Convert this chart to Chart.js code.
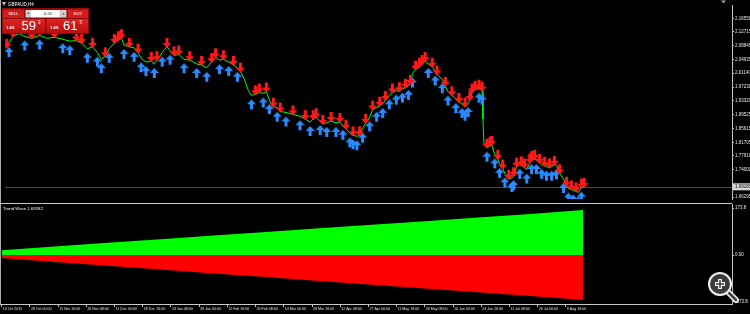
<!DOCTYPE html>
<html>
<head>
<meta charset="utf-8">
<script src="https://cdn.jsdelivr.net/npm/chart.js@4.4.0/dist/chart.umd.min.js"></script>
<style>
  html, body { margin: 0; padding: 0; background: #000; overflow: hidden; }
  #wrap { position: relative; width: 750px; height: 314px; }
  #priceChart { position: absolute; left: 0; top: 0; }
  #waveChart { position: absolute; left: 0; top: 204px; }
</style>
</head>
<body>
<div id="wrap">
  <canvas id="priceChart" width="750" height="204"></canvas>
  <canvas id="waveChart" width="750" height="110"></canvas>
</div>
<script>
// GBPAUD H4 closes, bar number counted from 13 Oct 2015
const closeBars = [
  0, 5, 14, 28, 41, 57, 75, 91, 109, 128,
  144, 159, 171, 184, 196, 207, 216, 225, 234, 246,
  255, 262, 268, 280, 291, 300, 307, 318, 330, 337,
  343, 355, 366, 373, 382, 393, 405, 418, 434, 445,
  457, 468, 477, 486, 495, 507, 518, 527, 534, 543,
  552, 559, 568, 577, 586, 593, 600, 609, 618, 625,
  638, 654, 670, 682, 693, 700, 707, 716, 722, 731,
  741, 752, 761, 768, 775, 784, 791, 800, 806, 813,
  820, 829, 836, 845, 852, 859, 865, 874, 881, 890,
  897, 904, 911, 918, 922, 927, 934, 943, 949, 956,
  963, 972, 979, 983, 995, 1002, 1008, 1017, 1026, 1033,
  1040, 1047, 1054, 1058, 1063, 1070, 1079, 1086, 1088, 1090,
  1097, 1104, 1108, 1115, 1122, 1126, 1133, 1138, 1147, 1154,
  1158, 1165, 1172, 1176, 1183, 1188, 1195, 1199, 1206, 1210,
  1217, 1222, 1229, 1233, 1240, 1245, 1251, 1256, 1263, 1272,
  1279, 1283, 1290, 1294, 1301, 1306, 1313, 1319
];
const closePrices = [
  2.0826, 2.0960, 2.1147, 2.1227, 2.1147, 2.1093, 2.1174, 2.1093, 2.1120, 2.1067,
  2.1013, 2.1030, 2.0960, 2.0799, 2.0853, 2.0692, 2.0505, 2.0586, 2.0799, 2.0960,
  2.1040, 2.1093, 2.0906, 2.0853, 2.0826, 2.0692, 2.0532, 2.0425, 2.0452, 2.0372,
  2.0479, 2.0692, 2.0853, 2.0746, 2.0612, 2.0639, 2.0505, 2.0479, 2.0372, 2.0345,
  2.0265, 2.0425, 2.0559, 2.0479, 2.0505, 2.0425, 2.0345, 2.0265, 2.0158, 1.9944,
  1.9623, 1.9490, 1.9516, 1.9570, 1.9543, 1.9597, 1.9356, 1.9169, 1.9142, 1.9035,
  1.9009, 1.8955, 1.8902, 1.8821, 1.8741, 1.8821, 1.8875, 1.8768, 1.8688, 1.8714,
  1.8768, 1.8714, 1.8741, 1.8634, 1.8554, 1.8420, 1.8367, 1.8340, 1.8367, 1.8554,
  1.8714, 1.8875, 1.9089, 1.9142, 1.9196, 1.9249, 1.9356, 1.9490, 1.9570, 1.9623,
  1.9605, 1.9677, 1.9703, 1.9757, 1.9810, 2.0104, 2.0211, 2.0292, 2.0372, 2.0452,
  2.0372, 2.0292, 2.0158, 2.0078, 1.9944, 1.9757, 1.9597, 1.9490, 1.9383, 1.9303,
  1.9249, 1.9169, 1.9276, 1.9356, 1.9570, 1.9650, 1.9677, 1.9623, 1.8821, 1.8153,
  1.8019, 1.8073, 1.8100, 1.7832, 1.7699, 1.7565, 1.7431, 1.7298, 1.7137, 1.7164,
  1.7218, 1.7485, 1.7538, 1.7520, 1.7458, 1.7405, 1.7592, 1.7672, 1.7699, 1.7672,
  1.7592, 1.7538, 1.7512, 1.7485, 1.7458, 1.7485, 1.7538, 1.7525, 1.7298, 1.7137,
  1.6950, 1.6870, 1.6843, 1.6817, 1.6790, 1.6763, 1.6897, 1.6918
];
// which closes carry a sell (red, above) or buy (blue, below) arrow
const sellSignalIdx = [0, 2, 3, 5, 6, 8, 11, 12, 14, 17, 19, 20, 21, 23, 25, 28, 30, 32, 34,
  35, 37, 39, 41, 42, 44, 46, 48, 52, 53, 55, 57, 59, 61, 63, 65, 66, 68, 70, 72, 74, 76,
  78, 80, 82, 84, 86, 88, 90, 92, 94, 96, 97, 98, 99, 101, 103, 105, 107, 109, 111, 113,
  114, 115, 116, 117, 120, 121, 122, 124, 126, 128, 130, 131, 133, 134, 136, 137, 138,
  140, 142, 144, 146, 148, 150, 152, 154, 156, 157];
const buySignalIdx = [1, 4, 6, 9, 10, 13, 15, 16, 18, 22, 24, 26, 27, 29, 31, 33, 36, 38, 40,
  43, 45, 47, 51, 54, 56, 58, 60, 62, 64, 67, 69, 71, 73, 75, 76, 77, 79, 81, 83, 85, 87,
  89, 91, 93, 95, 100, 102, 104, 106, 108, 110, 111, 112, 116, 117, 120, 123, 125, 127,
  129, 130, 132, 135, 137, 139, 141, 143, 145, 147, 149, 151, 153, 155, 156];

const priceTicks = [2.16550, 2.12715, 2.08845, 2.04935, 2.01140, 1.97230, 1.93320,
  1.89525, 1.85615, 1.81705, 1.77910, 1.74000, 1.66295];
const bidPrice = 1.69183;

const timeTickBars = [0, 64, 128, 192, 256, 320, 384, 448, 512, 576, 640,
  704, 768, 832, 896, 960, 1024, 1088, 1152, 1216, 1280];
const timeLabels = ["13 Oct 2015", "28 Oct 00:00", "11 Nov 16:00", "26 Nov 08:00",
  "11 Dec 00:00", "28 Dec 16:00", "13 Jan 08:00", "28 Jan 00:00", "11 Feb 16:00",
  "26 Feb 08:00", "14 Mar 00:00", "28 Mar 16:00", "12 Apr 08:00", "27 Apr 00:00",
  "11 May 16:00", "26 May 08:00", "10 Jun 00:00", "24 Jun 16:00", "11 Jul 08:00",
  "26 Jul 00:00", "9 Aug 16:00"];

// Trend Wave indicator
const waveBars = [0, 120, 240, 360, 480, 600, 720, 840, 960, 1080, 1200, 1319];
const waveBull = [18, 31, 45, 58, 72, 85, 99, 112, 125, 139, 152, 166];
const waveBear = [-11, -26, -40, -54, -68, -81, -96, -110, -124, -138, -152, -166];
const waveTicks = [173.8, 0, -173.8];

const FONT = '"Liberation Sans", Arial, sans-serif';
const X_MIN = -4, X_MAX = 1657;

function arrowImage(color, up) {
  const c = document.createElement('canvas');
  c.width = 9; c.height = 34;
  const g = c.getContext('2d');
  g.fillStyle = color;
  g.beginPath();
  if (up) {
    // tip 4px under the close
    g.moveTo(4.5, 21); g.lineTo(9, 26); g.lineTo(6, 26); g.lineTo(6, 31);
    g.lineTo(3, 31); g.lineTo(3, 26); g.lineTo(0, 26);
  } else {
    g.moveTo(4.5, 18); g.lineTo(9, 13); g.lineTo(6, 13); g.lineTo(6, 8);
    g.lineTo(3, 8); g.lineTo(3, 13); g.lineTo(0, 13);
  }
  g.closePath();
  g.fill();
  return c;
}
const sellArrow = arrowImage('#ff1a1a', false);
const buyArrow = arrowImage('#2b8cff', true);

const pricePoints = closeBars.map((b, i) => ({ x: b, y: closePrices[i] }));

function fixedAxis(width) {
  return s => {
    s.width = width;
    s.paddingTop = 0; s.paddingBottom = 0;
  };
}

function drawTradePanel(ctx) {
  ctx.save();
  ctx.textBaseline = 'middle';
  ctx.fillStyle = '#bbbbbb';
  ctx.beginPath(); ctx.moveTo(2, 2); ctx.lineTo(6, 2); ctx.lineTo(4, 6); ctx.closePath(); ctx.fill();
  ctx.fillStyle = '#ffffff';
  ctx.font = '4.5px ' + FONT;
  ctx.textAlign = 'left';
  ctx.fillText('GBPAUD,H4', 8, 4.5);

  ctx.fillStyle = '#8c0a0a';
  ctx.fillRect(2, 8, 87, 26);
  ctx.fillStyle = '#d41c1c';
  ctx.fillRect(3, 9.5, 21, 8.5);
  ctx.fillRect(68, 9.5, 20, 8.5);
  ctx.fillStyle = '#cfcfcf';
  ctx.fillRect(25.5, 10, 5.5, 7.5);
  ctx.fillRect(60.5, 10, 6, 7.5);
  ctx.fillStyle = '#ffffff';
  ctx.fillRect(31, 10, 29.5, 7.5);
  ctx.fillStyle = '#555';
  ctx.beginPath(); ctx.moveTo(27, 12.8); ctx.lineTo(29.5, 12.8); ctx.lineTo(28.25, 14.5); ctx.closePath(); ctx.fill();
  ctx.beginPath(); ctx.moveTo(62.3, 14.5); ctx.lineTo(64.8, 14.5); ctx.lineTo(63.55, 12.8); ctx.closePath(); ctx.fill();
  ctx.textAlign = 'center';
  ctx.font = '4.3px ' + FONT;
  ctx.fillStyle = '#ffffff';
  ctx.fillText('SELL', 13.5, 14);
  ctx.fillText('BUY', 78, 14);
  ctx.fillStyle = '#222';
  ctx.fillText('0.01', 48, 14);
  const grad = ctx.createLinearGradient(0, 19, 0, 33);
  grad.addColorStop(0, '#e02424');
  grad.addColorStop(1, '#b80f0f');
  ctx.fillStyle = grad;
  ctx.fillRect(3, 19, 42, 14);
  ctx.fillRect(46.5, 19, 41.5, 14);
  ctx.fillStyle = '#ffffff';
  ctx.textAlign = 'left';
  ctx.font = 'bold 4.3px ' + FONT;
  ctx.fillText('1.69', 6, 27.5);
  ctx.fillText('1.69', 50, 27.5);
  ctx.font = '13px ' + FONT;
  ctx.fillText('59', 21.5, 26.5);
  ctx.fillText('61', 63, 26.5);
  ctx.font = '4.5px ' + FONT;
  ctx.fillText('3', 38, 22.5);
  ctx.fillText('5', 79.5, 22.5);
  ctx.restore();
}

const priceDecor = {
  id: 'priceDecor',
  beforeDatasetsDraw(chart) {
    const { ctx, chartArea } = chart;
    const y = Math.round(chart.scales.y.getPixelForValue(bidPrice)) + 0.5;
    ctx.save();
    ctx.strokeStyle = '#4a4a4a';
    ctx.lineWidth = 1;
    ctx.beginPath(); ctx.moveTo(chartArea.left, y); ctx.lineTo(chartArea.right, y); ctx.stroke();
    ctx.restore();
  },
  afterDraw(chart) {
    const { ctx, chartArea } = chart;
    const y = chart.scales.y.getPixelForValue(bidPrice);
    ctx.save();
    ctx.strokeStyle = '#a8a8a8';
    ctx.lineWidth = 1;
    ctx.beginPath(); ctx.moveTo(0.5, 0); ctx.lineTo(0.5, 204); ctx.stroke();
    ctx.strokeStyle = '#c8c8c8';
    ctx.beginPath(); ctx.moveTo(0, 203.5); ctx.lineTo(chartArea.right, 203.5); ctx.stroke();
    ctx.fillStyle = '#d6d6d6';
    ctx.fillRect(chartArea.right + 1, y - 3.5, 17, 7);
    ctx.fillStyle = '#000';
    ctx.font = '4.5px ' + FONT;
    ctx.textBaseline = 'middle';
    ctx.textAlign = 'left';
    ctx.fillText(bidPrice.toFixed(5), chartArea.right + 3, y);
    ctx.fillStyle = '#9a9a9a';
    ctx.beginPath(); ctx.moveTo(721, 0.5); ctx.lineTo(726, 0.5); ctx.lineTo(723.5, 3.5); ctx.closePath(); ctx.fill();
    ctx.restore();
    drawTradePanel(ctx);
  }
};

const waveDecor = {
  id: 'waveDecor',
  afterDraw(chart) {
    const { ctx } = chart;
    ctx.save();
    ctx.strokeStyle = '#a8a8a8';
    ctx.lineWidth = 1;
    ctx.beginPath(); ctx.moveTo(0.5, 0); ctx.lineTo(0.5, 100); ctx.stroke();
    ctx.fillStyle = '#ffffff';
    ctx.font = '4.3px ' + FONT;
    ctx.textBaseline = 'middle';
    ctx.fillText('Trend Wave 1.69182', 3, 4.5);
    // zoom glyph
    const cx = 720, cy = 80;
    ctx.lineCap = 'round';
    ctx.strokeStyle = '#f2f2f2';
    ctx.lineWidth = 6;
    ctx.beginPath(); ctx.moveTo(cx + 8, cy + 8); ctx.lineTo(cx + 16, cy + 16); ctx.stroke();
    ctx.strokeStyle = '#3c3c3c';
    ctx.lineWidth = 2.5;
    ctx.beginPath(); ctx.moveTo(cx + 8, cy + 8); ctx.lineTo(cx + 16, cy + 16); ctx.stroke();
    ctx.fillStyle = '#3c3c3c';
    ctx.beginPath(); ctx.arc(cx, cy, 11, 0, Math.PI * 2); ctx.fill();
    ctx.strokeStyle = '#f2f2f2';
    ctx.lineWidth = 2;
    ctx.beginPath(); ctx.arc(cx, cy, 11, 0, Math.PI * 2); ctx.stroke();
    ctx.lineCap = 'butt';
    ctx.lineWidth = 4;
    ctx.beginPath();
    ctx.moveTo(cx - 5, cy); ctx.lineTo(cx + 5, cy);
    ctx.moveTo(cx, cy - 5); ctx.lineTo(cx, cy + 5);
    ctx.stroke();
    ctx.strokeStyle = '#3c3c3c';
    ctx.lineWidth = 1.5;
    ctx.beginPath();
    ctx.moveTo(cx - 4, cy); ctx.lineTo(cx + 4, cy);
    ctx.moveTo(cx, cy - 4); ctx.lineTo(cx, cy + 4);
    ctx.stroke();
    ctx.restore();
  }
};

new Chart(document.getElementById('priceChart'), {
  type: 'line',
  data: {
    datasets: [
      {
        label: 'sell',
        data: pricePoints,
        showLine: false,
        pointStyle: sellArrow,
        pointRadius: c => sellSignalIdx.includes(c.dataIndex) ? 3 : 0,
        order: 0
      },
      {
        label: 'buy',
        data: pricePoints,
        showLine: false,
        pointStyle: buyArrow,
        pointRadius: c => buySignalIdx.includes(c.dataIndex) ? 3 : 0,
        order: 0
      },
      {
        label: 'GBPAUD',
        data: pricePoints,
        borderColor: '#00ff00',
        borderWidth: 1,
        pointRadius: 0,
        tension: 0,
        order: 1
      }
    ]
  },
  options: {
    responsive: false,
    animation: false,
    events: [],
    layout: { padding: 0 },
    plugins: { legend: { display: false }, tooltip: { enabled: false } },
    scales: {
      x: { type: 'linear', min: X_MIN, max: X_MAX, display: false },
      y: {
        position: 'right',
        min: 1.6576,
        max: 2.2029,
        afterFit: fixedAxis(18),
        afterBuildTicks: s => { s.ticks = priceTicks.map(v => ({ value: v })); },
        grid: { drawOnChartArea: false, drawTicks: true, tickLength: 2, color: '#c0c0c0' },
        border: { display: true, color: '#c0c0c0' },
        ticks: {
          color: '#e6e6e6',
          padding: 1,
          font: { family: FONT, size: 4.5 },
          callback: v => v.toFixed(5)
        }
      }
    }
  },
  plugins: [priceDecor]
});

new Chart(document.getElementById('waveChart'), {
  type: 'line',
  data: {
    datasets: [
      {
        label: 'up',
        data: waveBars.map((b, i) => ({ x: b, y: waveBull[i] })),
        borderWidth: 0,
        borderColor: '#00ff00',
        backgroundColor: '#00ff00',
        fill: 'origin',
        pointRadius: 0,
        tension: 0
      },
      {
        label: 'down',
        data: waveBars.map((b, i) => ({ x: b, y: waveBear[i] })),
        borderWidth: 0,
        borderColor: '#ff0000',
        backgroundColor: '#ff0000',
        fill: 'origin',
        pointRadius: 0,
        tension: 0
      }
    ]
  },
  options: {
    responsive: false,
    animation: false,
    events: [],
    layout: { padding: 0 },
    plugins: { legend: { display: false }, tooltip: { enabled: false } },
    scales: {
      x: {
        type: 'linear',
        min: X_MIN,
        max: X_MAX,
        afterFit: s => { s.height = 10; s.paddingLeft = 0; s.paddingRight = 0; },
        afterBuildTicks: s => { s.ticks = timeTickBars.map(v => ({ value: v })); },
        grid: { drawOnChartArea: false, drawTicks: true, tickLength: 3, color: '#c0c0c0' },
        border: { display: true, color: '#c8c8c8' },
        ticks: {
          color: '#e6e6e6',
          padding: 0,
          align: 'start',
          maxRotation: 0,
          autoSkip: false,
          font: { family: FONT, size: 3.6 },
          callback: (v, i) => ' ' + timeLabels[i]
        }
      },
      y: {
        position: 'right',
        min: -181.2,
        max: 188.6,
        afterFit: fixedAxis(18),
        afterBuildTicks: s => { s.ticks = waveTicks.map(v => ({ value: v })); },
        grid: { drawOnChartArea: false, drawTicks: true, tickLength: 2, color: '#c0c0c0' },
        border: { display: true, color: '#c0c0c0' },
        ticks: {
          color: '#e6e6e6',
          padding: 1,
          font: { family: FONT, size: 4.5 },
          callback: v => v === 0 ? '0.00' : v.toFixed(1)
        }
      }
    }
  },
  plugins: [waveDecor]
});
</script>
</body>
</html>
